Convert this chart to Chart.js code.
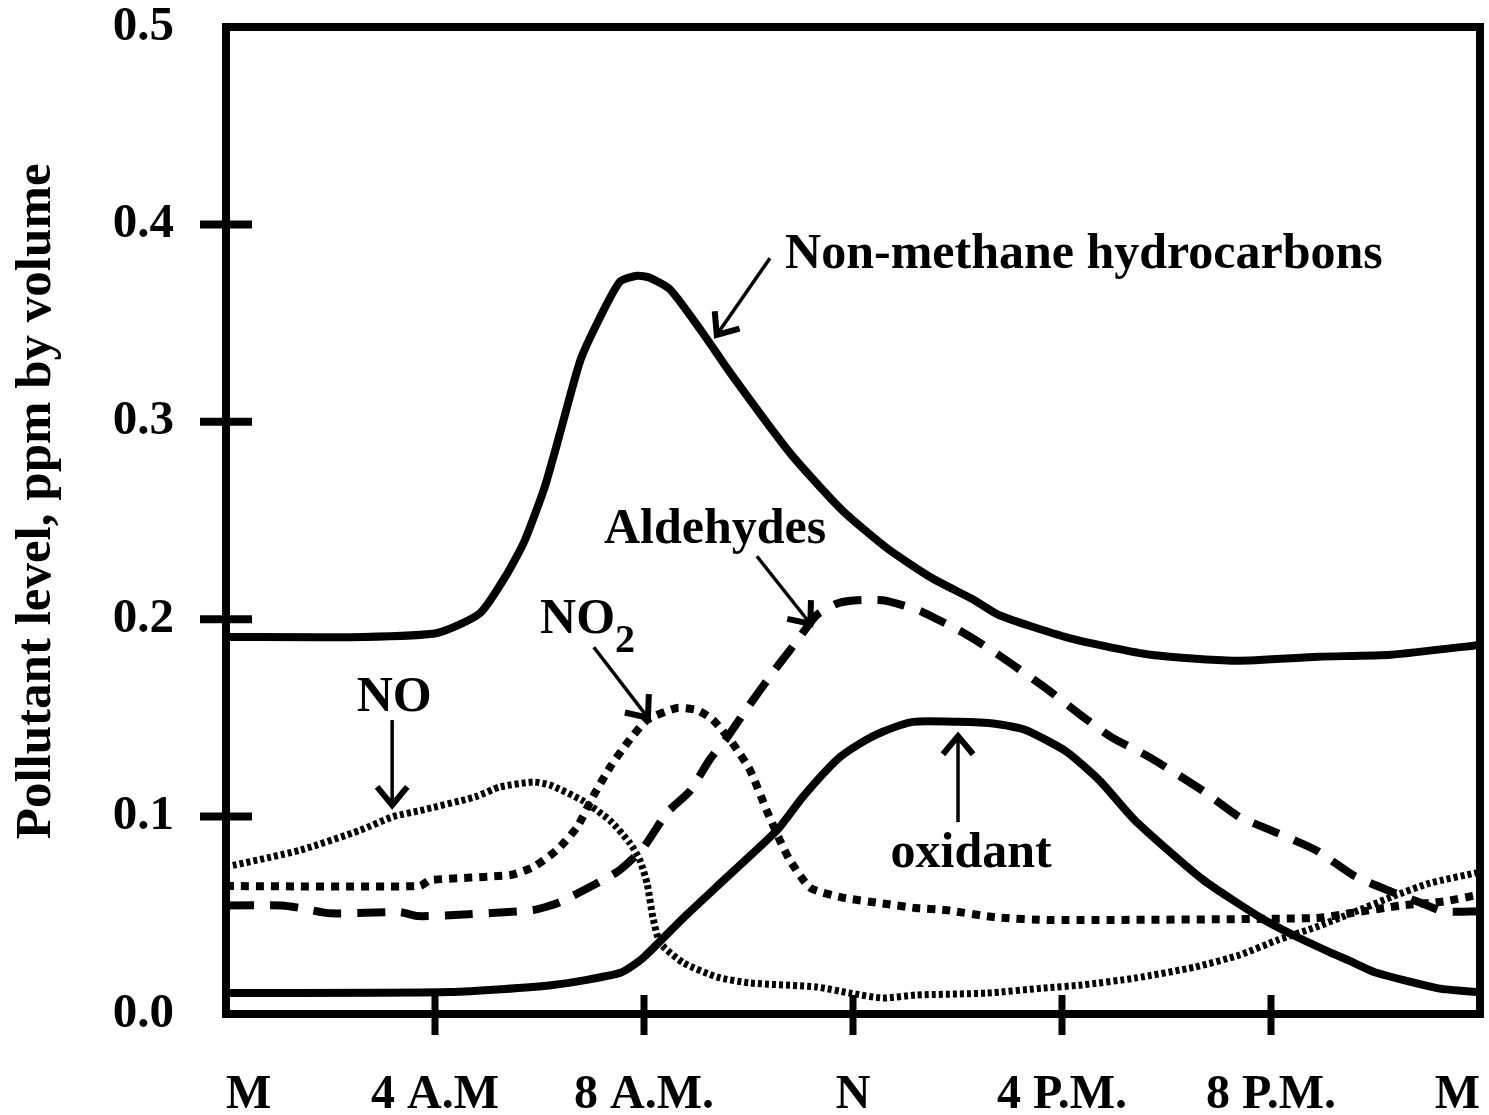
<!DOCTYPE html>
<html>
<head>
<meta charset="utf-8">
<script src="https://cdn.jsdelivr.net/npm/chart.js@4.4.1/dist/chart.umd.min.js"></script>
<style>
  html, body { margin: 0; padding: 0; background: #fff; }
  #wrap { width: 1489px; height: 1115px; position: relative; }
</style>
</head>
<body>
<div id="wrap"><canvas id="chart"></canvas></div>
<script>
// tick labels
const timeLabels = ['M', '4 A.M', '8 A.M.', 'N', '4 P.M.', '8 P.M.', 'M'];
const ppmLabels = ['0.0', '0.1', '0.2', '0.3', '0.4', '0.5'];

// hours after midnight / ppm by volume
const nmhcHours = [0, 2.6, 4.04, 4.86, 5.38, 5.72, 6.1, 6.39, 6.78, 7.16, 7.54, 7.87, 8.11, 8.5, 9.07, 9.7, 10.8, 11.8, 12.65, 13.5, 14.3, 14.8, 16.2, 17.7, 19.3, 20.9, 22.3, 24];
const nmhcPpm = [0.191, 0.191, 0.193, 0.203, 0.223, 0.240, 0.267, 0.294, 0.331, 0.353, 0.371, 0.374, 0.373, 0.367, 0.347, 0.323, 0.284, 0.255, 0.236, 0.221, 0.210, 0.202, 0.190, 0.182, 0.179, 0.181, 0.182, 0.187];

const oxidantHours = [0, 4.29, 6.26, 7.54, 7.98, 8.75, 9.59, 10.55, 11.04, 11.7, 12.13, 12.57, 13.15, 14.0, 14.72, 15.29, 16.08, 16.73, 17.4, 18.7, 19.85, 20.5, 21.15, 21.5, 22.0, 23.2, 24];
const oxidantPpm = [0.0106, 0.0111, 0.0147, 0.0208, 0.0284, 0.0486, 0.0694, 0.0932, 0.110, 0.129, 0.137, 0.143, 0.148, 0.148, 0.147, 0.144, 0.133, 0.118, 0.098, 0.068, 0.048, 0.039, 0.031, 0.027, 0.021, 0.013, 0.011];

const aldehydeHours = [0, 1.07, 1.42, 2.0, 3.33, 3.66, 4.29, 5.88, 6.39, 7.48, 7.98, 8.44, 8.88, 9.26, 9.59, 10.03, 10.55, 10.93, 11.3, 11.7, 12.08, 12.57, 12.96, 13.34, 14.12, 14.78, 15.66, 16.38, 16.96, 17.68, 18.7, 19.4, 19.85, 20.86, 21.59, 22.3, 22.9, 23.3, 24];
const aldehydePpm = [0.055, 0.055, 0.0537, 0.051, 0.0516, 0.0496, 0.050, 0.0527, 0.0567, 0.0719, 0.084, 0.102, 0.113, 0.129, 0.140, 0.157, 0.176, 0.189, 0.202, 0.208, 0.2096, 0.2096, 0.207, 0.2035, 0.193, 0.182, 0.1656, 0.151, 0.140, 0.130, 0.113, 0.0997, 0.0947, 0.083, 0.070, 0.062, 0.056, 0.052, 0.052];

const no2Hours = [0, 3.71, 3.9, 5.44, 5.88, 6.33, 6.72, 7.02, 7.35, 7.67, 8.06, 8.63, 9.01, 9.32, 9.7, 10.03, 10.35, 10.6, 10.79, 11.18, 11.8, 12.57, 13.2, 13.76, 14.72, 15.79, 20.86, 21.5, 22.5, 23.3, 24];
const no2Ppm = [0.0648, 0.0648, 0.0678, 0.0704, 0.0744, 0.083, 0.0947, 0.110, 0.125, 0.137, 0.149, 0.155, 0.154, 0.149, 0.137, 0.1235, 0.103, 0.088, 0.078, 0.064, 0.059, 0.056, 0.0537, 0.0527, 0.049, 0.0476, 0.0486, 0.051, 0.055, 0.057, 0.0605];

const noHours = [0, 1.42, 2.56, 3.2, 3.71, 4.77, 5.24, 5.88, 6.2, 6.83, 7.35, 7.73, 7.92, 8.06, 8.17, 8.31, 8.75, 9.4, 10.03, 11.3, 11.94, 12.57, 13.2, 14.56, 15.66, 16.38, 17.4, 18.55, 19.4, 20.13, 20.86, 21.59, 22.3, 23.04, 24];
const noPpm = [0.0745, 0.083, 0.093, 0.100, 0.103, 0.110, 0.115, 0.1175, 0.116, 0.108, 0.098, 0.0866, 0.078, 0.066, 0.049, 0.036, 0.026, 0.0187, 0.0157, 0.0137, 0.0106, 0.0081, 0.0096, 0.0106, 0.0132, 0.0147, 0.0182, 0.0238, 0.0299, 0.0375, 0.044, 0.0516, 0.0592, 0.0663, 0.0719];

const pts = (hours, vals) => hours.map((h, i) => ({ x: h, y: vals[i] }));

const FONT = "'Liberation Serif', 'Times New Roman', serif";

// callout labels with arrows, placed in data units (hours, ppm)
const callouts = [
  { text: 'Non-methane hydrocarbons', at: [10.7, 0.3777], align: 'left', from: [10.41, 0.3828], to: [9.36, 0.3428] },
  { text: 'Aldehydes', at: [9.36, 0.2385], align: 'center', from: [10.16, 0.2319], to: [11.22, 0.1965] },
  { text: 'NO', sub: '2', at: [6.01, 0.1929], align: 'left', from: [7.04, 0.1858], to: [8.11, 0.1489] },
  { text: 'NO', at: [3.22, 0.1534], align: 'center', from: [3.18, 0.1489], to: [3.18, 0.1043] },
  { text: 'oxidant', at: [14.26, 0.0744], align: 'center', from: [14.01, 0.0972], to: [14.01, 0.1423] }
];

function drawArrow(ctx, x1, y1, x2, y2) {
  const ang = Math.atan2(y2 - y1, x2 - x1);
  ctx.lineWidth = 3.5;
  ctx.beginPath();
  ctx.moveTo(x1, y1);
  ctx.lineTo(x2 - 4 * Math.cos(ang), y2 - 4 * Math.sin(ang));
  ctx.stroke();
  const len = 26, spread = 0.62;
  ctx.lineWidth = 6;
  ctx.lineJoin = 'miter';
  ctx.beginPath();
  ctx.moveTo(x2 - len * Math.cos(ang - spread), y2 - len * Math.sin(ang - spread));
  ctx.lineTo(x2 - 3 * Math.cos(ang), y2 - 3 * Math.sin(ang));
  ctx.lineTo(x2 - len * Math.cos(ang + spread), y2 - len * Math.sin(ang + spread));
  ctx.stroke();
}

const framePlugin = {
  id: 'frame',
  afterDatasetsDraw(chart) {
    const { ctx, chartArea: a, scales: { x, y } } = chart;
    ctx.save();
    ctx.strokeStyle = '#000';
    ctx.fillStyle = '#000';
    ctx.lineWidth = 8;
    ctx.strokeRect(a.left, a.top, a.right - a.left, a.bottom - a.top);

    // tick marks crossing the frame
    ctx.lineWidth = 8;
    y.ticks.forEach(t => {
      if (t.value > 0.001 && t.value < 0.499) {
        const py = y.getPixelForValue(t.value);
        ctx.beginPath(); ctx.moveTo(a.left - 26, py); ctx.lineTo(a.left + 26, py); ctx.stroke();
      }
    });
    ctx.lineWidth = 7;
    x.ticks.forEach(t => {
      if (t.value > 0 && t.value < 24) {
        const px = x.getPixelForValue(t.value);
        ctx.beginPath(); ctx.moveTo(px, a.bottom - 19); ctx.lineTo(px, a.bottom + 21); ctx.stroke();
      }
    });

    callouts.forEach(c => {
      const tx = x.getPixelForValue(c.at[0]);
      const ty = y.getPixelForValue(c.at[1]);
      ctx.font = 'bold 50px ' + FONT;
      ctx.textBaseline = 'alphabetic';
      ctx.textAlign = c.align;
      ctx.fillText(c.text, tx, ty);
      if (c.sub) {
        const w = ctx.measureText(c.text).width;
        ctx.font = 'bold 40px ' + FONT;
        ctx.textAlign = 'left';
        ctx.fillText(c.sub, tx + w, ty + 19);
      }
      drawArrow(ctx,
        x.getPixelForValue(c.from[0]), y.getPixelForValue(c.from[1]),
        x.getPixelForValue(c.to[0]), y.getPixelForValue(c.to[1]));
    });
    ctx.restore();
  }
};

const lineStyle = { borderColor: '#000', pointRadius: 0, tension: 0.2, fill: false, borderCapStyle: 'butt' };

new Chart(document.getElementById('chart'), {
  type: 'line',
  data: {
    datasets: [
      { ...lineStyle, label: 'Non-methane hydrocarbons', data: pts(nmhcHours, nmhcPpm), borderWidth: 8 },
      { ...lineStyle, label: 'Oxidant', data: pts(oxidantHours, oxidantPpm), borderWidth: 8 },
      { ...lineStyle, label: 'Aldehydes', data: pts(aldehydeHours, aldehydePpm), borderWidth: 8, borderDash: [28, 16] },
      { ...lineStyle, label: 'NO2', data: pts(no2Hours, no2Ppm), borderWidth: 8, borderDash: [8, 7] },
      { ...lineStyle, label: 'NO', data: pts(noHours, noPpm), borderWidth: 7, borderDash: [4, 3] }
    ]
  },
  options: {
    responsive: true,
    maintainAspectRatio: false,
    animation: false,
    layout: { padding: { top: 27, right: 9, left: 0, bottom: 0 } },
    plugins: {
      legend: { display: false },
      tooltip: { enabled: false }
    },
    scales: {
      x: {
        type: 'linear',
        min: 0,
        max: 24,
        grid: { display: false, drawTicks: false },
        border: { display: false },
        ticks: {
          stepSize: 4,
          autoSkip: false,
          maxRotation: 0,
          align: 'inner',
          padding: 53,
          color: '#000',
          font: { family: FONT, size: 48, weight: 'bold' },
          callback: (v) => timeLabels[Math.round(v / 4)]
        },
        afterFit: (s) => { s.height = 101; s.paddingLeft = 0; s.paddingRight = 0; }
      },
      y: {
        min: 0,
        max: 0.5,
        grid: { display: false, drawTicks: false },
        border: { display: false },
        ticks: {
          stepSize: 0.1,
          padding: 52,
          color: '#000',
          font: { family: FONT, size: 49, weight: 'bold' },
          callback: (v) => ppmLabels[Math.round(v * 10)]
        },
        title: {
          display: true,
          text: '   Pollutant level, ppm by volume',
          color: '#000',
          font: { family: FONT, size: 51, weight: 'bold', lineHeight: 1 },
          padding: { top: 11, bottom: 0 }
        },
        afterFit: (s) => { s.width = 226; s.paddingTop = 0; s.paddingBottom = 0; }
      }
    }
  },
  plugins: [framePlugin]
});
</script>
</body>
</html>
